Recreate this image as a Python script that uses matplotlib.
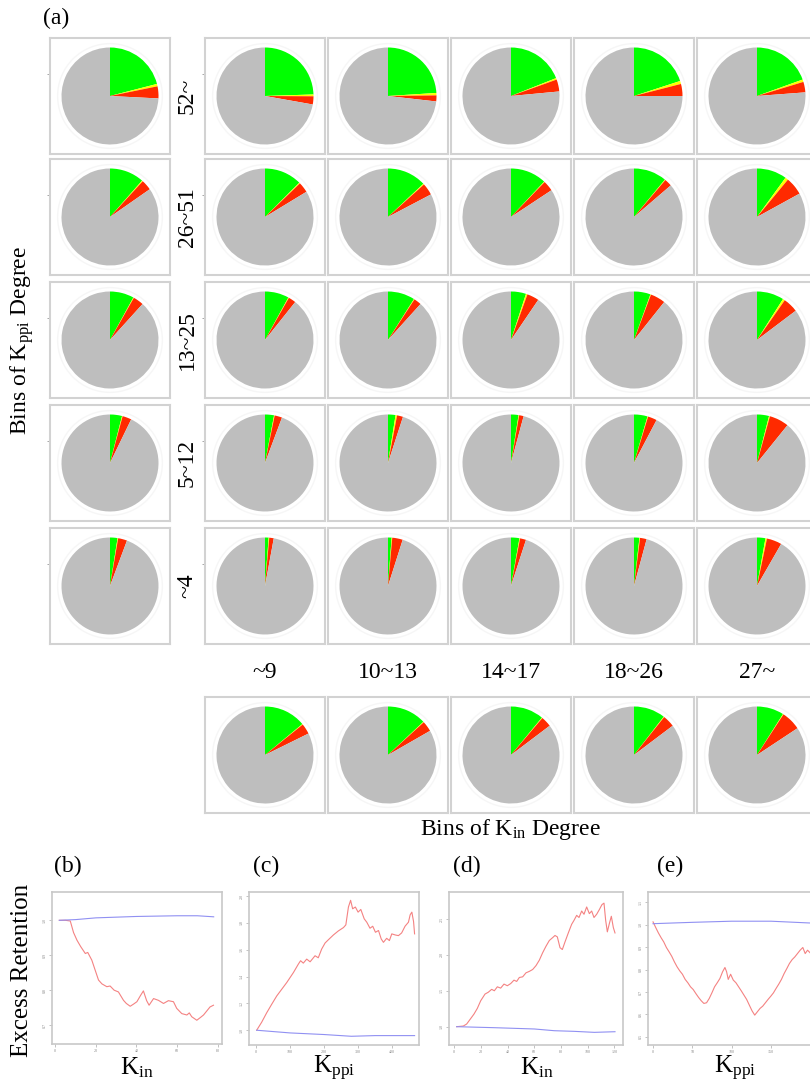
import matplotlib
matplotlib.use("Agg")
import matplotlib.pyplot as plt
from matplotlib.patches import Circle

plt.rcParams["font.family"] = ["Liberation Serif", "DejaVu Serif"]

W, H = 810, 1081

# pie fractions: green, yellow, red (rest is grey)
ppi_bins = ["52~", "26~51", "13~25", "5~12", "~4"]
kin_bins = ["~9", "10~13", "14~17", "18~26", "27~"]

green = [
    [0.245, 0.240, 0.190, 0.200, 0.195],
    [0.125, 0.130, 0.120, 0.110, 0.100],
    [0.080, 0.090, 0.050, 0.055, 0.090],
    [0.030, 0.025, 0.025, 0.045, 0.040],
    [0.012, 0.012, 0.028, 0.018, 0.028],
]
yellow = [
    [0.006, 0.008, 0.005, 0.010, 0.008],
    [0.003, 0.003, 0.002, 0.002, 0.010],
    [0.002, 0.002, 0.005, 0.002, 0.007],
    [0.002, 0.005, 0.002, 0.002, 0.003],
    [0.002, 0.002, 0.002, 0.002, 0.005],
]
red = [
    [0.027, 0.020, 0.040, 0.040, 0.035],
    [0.035, 0.040, 0.035, 0.025, 0.060],
    [0.025, 0.025, 0.040, 0.050, 0.050],
    [0.025, 0.020, 0.015, 0.030, 0.065],
    [0.015, 0.035, 0.020, 0.022, 0.050],
]
# marginals
row_green = [0.210, 0.115, 0.080, 0.040, 0.025]
row_yellow = [0.008, 0.003, 0.002, 0.002, 0.002]
row_red = [0.040, 0.035, 0.035, 0.030, 0.030]
col_green = [0.140, 0.130, 0.110, 0.105, 0.090]
col_yellow = [0.002, 0.002, 0.002, 0.002, 0.002]
col_red = [0.035, 0.035, 0.035, 0.040, 0.065]

# line panels
b_x_red = [2, 5, 7.4, 9, 10.7, 12.5, 14.8, 16, 18, 19.5, 21.3, 23, 25.4, 27, 29, 31.1, 33.6, 35, 36.9,
           38.5, 40.2, 42, 43.4, 45, 46.2, 48.4, 50.8, 53.3, 55.7, 58.2, 59.8, 62.3, 64.8, 66, 67.2,
           69.7, 71.5, 73, 76.2, 77.9]
b_y_red = [1.0, 1.0, 0.998, 0.965, 0.943, 0.925, 0.905, 0.908, 0.886, 0.860, 0.829, 0.818, 0.810,
           0.812, 0.800, 0.795, 0.771, 0.762, 0.754, 0.760, 0.767, 0.785, 0.798, 0.770, 0.757, 0.776,
           0.771, 0.762, 0.770, 0.767, 0.748, 0.733, 0.729, 0.735, 0.724, 0.714, 0.722, 0.729, 0.752,
           0.757]
b_x_blue = [2, 10, 20, 30, 40, 50, 60, 70, 78]
b_y_blue = [1.0, 1.002, 1.007, 1.009, 1.011, 1.012, 1.013, 1.013, 1.01]

c_x_red = [2, 16.7, 31.4, 46, 60.8, 75.5, 90.2, 110, 124.5, 131, 139, 149, 159, 173.5, 183, 193, 203,
           213, 227.5, 242, 257, 264, 271.6, 278, 284, 292, 300, 308, 318, 325.5, 335, 343, 351, 360,
           368, 374.5, 384, 392, 399, 409, 418.6, 428, 438, 448, 453, 458, 463, 466]
c_y_red = [1.0, 1.06, 1.13, 1.193, 1.255, 1.305, 1.355, 1.43, 1.493, 1.518, 1.50, 1.53, 1.51, 1.555,
           1.54, 1.605, 1.65, 1.675, 1.71, 1.74, 1.765, 1.785, 1.918, 1.968, 1.905, 1.918, 1.88, 1.90,
           1.83, 1.805, 1.76, 1.775, 1.73, 1.743, 1.68, 1.655, 1.685, 1.668, 1.718, 1.71, 1.705, 1.725,
           1.775, 1.805, 1.86, 1.88, 1.81, 1.718]
c_x_blue = [2, 100, 200, 280, 350, 466]
c_y_blue = [1.0, 0.98, 0.968, 0.955, 0.96, 0.96]

d_x_red = [1.75, 6.75, 9.25, 11.75, 14.75, 17.25, 19.75, 23, 25.5, 28, 30, 32.25, 34.75, 37.25, 39.75,
           42.25, 44.75, 46.75, 48.75, 51.25, 53.75, 56.25, 58.75, 61.25, 63.75, 66.25, 68.75, 71.25,
           73.75, 75.5, 77.25, 79.25, 81, 83, 85.5, 88, 89.75, 91.75, 93.5, 95.5, 97.25, 99.25, 101.25,
           103, 104.75, 106.75, 108.75, 110.75, 112.25, 113.5, 114.75, 116.25, 117.75, 119.25, 120.5]
d_y_red = [1.0, 1.009, 1.037, 1.10, 1.176, 1.255, 1.36, 1.454, 1.48, 1.52, 1.50, 1.555, 1.537, 1.593,
           1.57, 1.60, 1.648, 1.63, 1.685, 1.694, 1.75, 1.77, 1.796, 1.85, 1.926, 2.03, 2.12, 2.20,
           2.24, 2.27, 2.25, 2.10, 2.074, 2.18, 2.306, 2.426, 2.48, 2.55, 2.52, 2.61, 2.565, 2.667,
           2.574, 2.61, 2.52, 2.565, 2.63, 2.70, 2.72, 2.48, 2.32, 2.435, 2.537, 2.38, 2.305]
d_x_blue = [1.75, 30, 60, 75, 90, 105, 120.5]
d_y_blue = [1.0, 0.986, 0.968, 0.944, 0.935, 0.921, 0.93]

e_x_red = [0, 3.4, 6.8, 10.2, 13.6, 17, 20.4, 23.8, 27.2, 30.6, 34, 37.4, 40.9, 44.3, 47.7, 51.1,
           54.5, 57.9, 61.3, 64.7, 68.1, 71.5, 74.9, 78.3, 81.7, 85.1, 88.5, 91.5, 93.6, 95.7, 98.7,
           102.1, 105.5, 108.9, 112.3, 115.7, 119.1, 122.6, 126, 129.4, 132.8, 136.2, 139.6, 143,
           146.4, 149.8, 153.2, 156.6, 160, 163.4, 166.8, 170.2, 173.6, 177, 180.4, 183.8, 187.2,
           190.6, 193.6, 196.6, 200]
e_y_red = [1.012, 0.987, 0.963, 0.942, 0.923, 0.898, 0.879, 0.859, 0.834, 0.812, 0.794, 0.779,
           0.756, 0.741, 0.723, 0.711, 0.693, 0.676, 0.661, 0.649, 0.652, 0.671, 0.696, 0.723,
           0.741, 0.76, 0.79, 0.809, 0.79, 0.756, 0.779, 0.753, 0.741, 0.723, 0.705, 0.686, 0.667,
           0.641, 0.616, 0.597, 0.612, 0.627, 0.637, 0.652, 0.667, 0.681, 0.696, 0.716, 0.735,
           0.756, 0.782, 0.804, 0.827, 0.844, 0.856, 0.871, 0.886, 0.898, 0.871, 0.886, 0.874]
e_x_blue = [0, 50, 100, 150, 200]
e_y_blue = [1.004, 1.010, 1.015, 1.015, 1.007]

PIE_COLORS = ["#00ff00", "#ffff00", "#ff2a00", "#bebebe"]
BOX_EDGE = "#d2d2d2"


def px_axes(fig, x0, y0, w, h):
    return fig.add_axes([x0 / W, 1 - (y0 + h) / H, w / W, h / H])


def draw_pie(fig, x0, y0, g, y, r, tick=False):
    w, h = 120, 116
    ax = px_axes(fig, x0, y0, w, h)
    rest = 1.0 - g - y - r
    ax.pie([g, y, r, rest], colors=PIE_COLORS, startangle=90, counterclock=False,
           radius=1.0, frame=True, wedgeprops={"linewidth": 0})
    ax.add_patch(Circle((0, 0), 1.08, fill=False, edgecolor="#f6f6f6", linewidth=1.0))
    rx = (w / 2) / 48.5
    ry = (h / 2) / 48.5
    ax.set_xlim(-rx, rx)
    ax.set_ylim(-ry, ry)
    ax.set_aspect("auto")
    ax.set_xticks([])
    if tick:
        ax.set_yticks([0.45])
        ax.set_yticklabels([""])
        ax.tick_params(axis="y", length=2, width=0.6, color="#999999")
    else:
        ax.set_yticks([])
    for s in ax.spines.values():
        s.set_color(BOX_EDGE)
        s.set_linewidth(1.5)
    return ax


def draw_line(fig, box, xr, yr, xb, yb, xlim, ylim, xticks, yticks):
    x0, y0, x1, y1 = box
    ax = px_axes(fig, x0, y0, x1 - x0, y1 - y0)
    ax.plot(xr, yr, color="#f48282", linewidth=0.8)
    ax.plot(xb, yb, color="#9090f2", linewidth=0.8)
    ax.set_xlim(*xlim)
    ax.set_ylim(*ylim)
    ax.set_xticks(xticks)
    ax.set_yticks(yticks)
    ax.set_xticklabels([str(t) for t in xticks])
    ax.set_yticklabels([f"{t:.1f}" for t in yticks], rotation=90, va="center")
    ax.tick_params(length=2, width=0.5, color="#aaaaaa", labelsize=3, labelcolor="#888888", pad=1.5)
    for s in ax.spines.values():
        s.set_color("#c8c8c8")
        s.set_linewidth(1.2)
    return ax


fig = plt.figure(figsize=(W / 100, H / 100), dpi=100)

row_tops = [38, 159, 282, 405, 528]
col_lefts = [205, 328, 451, 574, 697]

for i in range(5):
    draw_pie(fig, 50, row_tops[i], row_green[i], row_yellow[i], row_red[i], tick=True)
    for j in range(5):
        draw_pie(fig, col_lefts[j], row_tops[i], green[i][j], yellow[i][j], red[i][j], tick=(j == 0))
    fig.text(187 / W, 1 - (row_tops[i] + 58) / H, ppi_bins[i], rotation=90,
             ha="center", va="center", fontsize=17)

for j in range(5):
    draw_pie(fig, col_lefts[j], 697, col_green[j], col_yellow[j], col_red[j])
    fig.text((col_lefts[j] + 60) / W, 1 - 672 / H, kin_bins[j], ha="center", va="center", fontsize=17)

fig.text(56 / W, 1 - 18 / H, "(a)", ha="center", va="center", fontsize=17)
fig.text(22 / W, 1 - 340 / H, r"Bins of K$\mathregular{_{ppi}}$ Degree", rotation=90,
         ha="center", va="center", fontsize=17)
fig.text(510 / W, 1 - 830 / H, r"Bins of K$\mathregular{_{in}}$ Degree", ha="center", va="center",
         fontsize=17)

draw_line(fig, (52, 892, 222, 1044), b_x_red, b_y_red, b_x_blue, b_y_blue,
          (-1.6, 82.1), (0.646, 1.081), [0, 20, 40, 60, 80], [0.7, 0.8, 0.9, 1.0])
draw_line(fig, (249, 892, 419, 1045), c_x_red, c_y_red, c_x_blue, c_y_blue,
          (-20.6, 479), (0.89, 2.03), [0, 100, 200, 300, 400], [1.0, 1.2, 1.4, 1.6, 1.8, 2.0])
draw_line(fig, (449, 892, 623, 1045), d_x_red, d_y_red, d_x_blue, d_y_blue,
          (-4, 126.5), (0.745, 2.875), [0, 20, 40, 60, 80, 100, 120], [1.0, 1.5, 2.0, 2.5])
draw_line(fig, (648, 892, 822, 1045), e_x_red, e_y_red, e_x_blue, e_y_blue,
          (-6.4, 215), (0.464, 1.145), [0, 50, 100, 150], [0.5, 0.6, 0.7, 0.8, 0.9, 1.0, 1.1])

for x, lab in [(68, "(b)"), (266, "(c)"), (467, "(d)"), (670, "(e)")]:
    fig.text(x / W, 1 - 866 / H, lab, ha="center", va="center", fontsize=17)
fig.text(22 / W, 1 - 970 / H, "Excess Retention", rotation=90, ha="center", va="center", fontsize=18)
for x, lab in [(137, "in"), (334, "ppi"), (537, "in"), (735, "ppi")]:
    fig.text(x / W, 1 - 1068 / H, "K$\\mathregular{_{%s}}$" % lab, ha="center", va="center",
             fontsize=18)

fig.savefig("out.png", dpi=100)
